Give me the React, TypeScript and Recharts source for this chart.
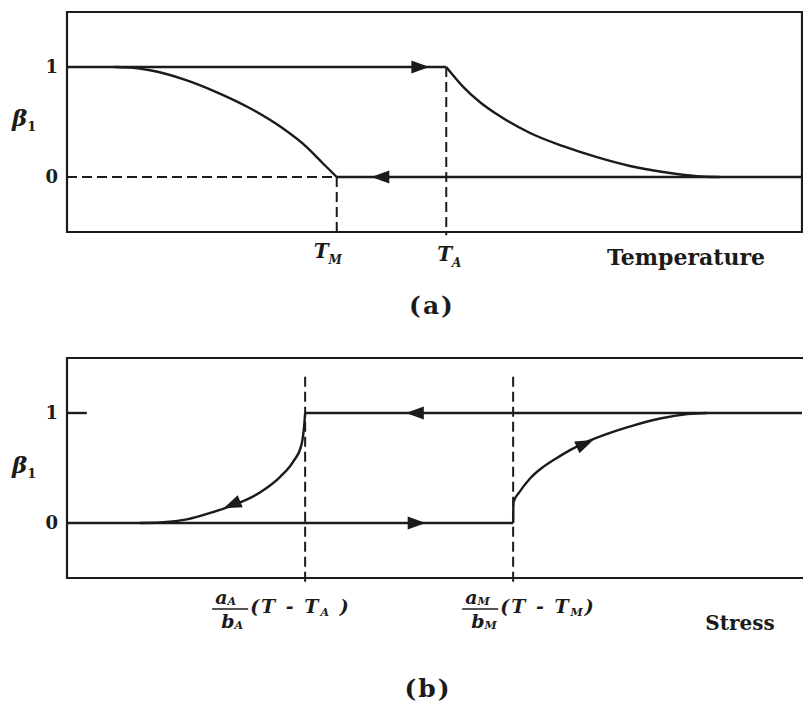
import { LineChart, Line, XAxis, YAxis, ReferenceLine, ReferenceArea } from "recharts";

type Pt = { x: number; y: number };
type Arrow = { tail: Pt; tip: Pt };

// ---- (a) beta_1 against temperature ----
const tempTicks = [36.7, 51.6]; // T_M, T_A
const tempTickSubs = ["M", "A"];
const betaTicks = [0, 1];

const heatPlateau: Pt[] = [
  { x: 0, y: 1 },
  { x: 51.6, y: 1 },
];
const heatDecay: Pt[] = [
  { x: 51.6, y: 1 },
  { x: 53.9, y: 0.82 },
  { x: 56.2, y: 0.68 },
  { x: 58.5, y: 0.57 },
  { x: 63.0, y: 0.4 },
  { x: 67.5, y: 0.28 },
  { x: 72.1, y: 0.18 },
  { x: 76.6, y: 0.1 },
  { x: 81.1, y: 0.045 },
  { x: 85.7, y: 0.007 },
  { x: 88.8, y: 0 },
];
const coolBase: Pt[] = [
  { x: 36.7, y: 0 },
  { x: 100, y: 0 },
];
const coolRise: Pt[] = [
  { x: 6.5, y: 1 },
  { x: 9.0, y: 0.992 },
  { x: 11.3, y: 0.97 },
  { x: 15.8, y: 0.89 },
  { x: 20.4, y: 0.77 },
  { x: 24.9, y: 0.625 },
  { x: 29.4, y: 0.44 },
  { x: 32.65, y: 0.27 },
  { x: 34.8, y: 0.125 },
  { x: 36.7, y: 0 },
];
const tempArrows: Arrow[] = [
  { tail: { x: 46.5, y: 1 }, tip: { x: 49.3, y: 1 } },
  { tail: { x: 44.6, y: 0 }, tip: { x: 41.4, y: 0 } },
];

// ---- (b) beta_1 against stress ----
const stressTicks = [32.4, 60.7]; // a_A/b_A (T - T_A), a_M/b_M (T - T_M)
const stressTickSubs = ["A", "M"];

const unloadTop: Pt[] = [
  { x: 32.4, y: 1 },
  { x: 100, y: 1 },
];
const loadBase: Pt[] = [
  { x: 0, y: 0 },
  { x: 60.7, y: 0 },
];
const unloadCurve: Pt[] = [
  { x: 9.9, y: 0 },
  { x: 12.7, y: 0.004 },
  { x: 16.3, y: 0.033 },
  { x: 19.9, y: 0.1 },
  { x: 23.1, y: 0.175 },
  { x: 26.3, y: 0.28 },
  { x: 29.0, y: 0.42 },
  { x: 30.8, y: 0.56 },
  { x: 31.9, y: 0.71 },
  { x: 32.3, y: 0.91 },
  { x: 32.4, y: 1 },
];
const loadCurve: Pt[] = [
  { x: 60.7, y: 0 },
  { x: 60.75, y: 0.19 },
  { x: 61.6, y: 0.285 },
  { x: 63.0, y: 0.405 },
  { x: 64.8, y: 0.51 },
  { x: 67.1, y: 0.61 },
  { x: 69.8, y: 0.71 },
  { x: 73.5, y: 0.81 },
  { x: 77.0, y: 0.885 },
  { x: 80.7, y: 0.95 },
  { x: 84.4, y: 0.99 },
  { x: 87.1, y: 1 },
];
const stressArrows: Arrow[] = [
  { tail: { x: 49.2, y: 1 }, tip: { x: 46.1, y: 1 } },
  { tail: { x: 45.9, y: 0 }, tip: { x: 48.8, y: 0 } },
  { tail: { x: 24.4, y: 0.22 }, tip: { x: 21.3, y: 0.135 } },
  { tail: { x: 68.6, y: 0.665 }, tip: { x: 71.6, y: 0.755 } },
];

const INK = "#1b1b1b";
const SERIF = '"DejaVu Serif", "Liberation Serif", serif';
const W = 803;
const PLOT_LEFT = 67;
const PLOT_TOP = 12;
const PLOT_H = 220;
const X_DOMAIN: [number, number] = [0, 100];
const Y_DOMAIN: [number, number] = [-0.5, 1.5];
const LW = 2.4;

function ArrowHead(props: any) {
  const { index, points, cx, cy } = props;
  if (index !== 1 || !points) return <g key={`ah-${index}`} />;
  const p0 = points[0];
  const ang = (Math.atan2(cy - p0.y, cx - p0.x) * 180) / Math.PI;
  return (
    <polygon
      key={`ah-${index}`}
      points="0,0 -18,-6.5 -18,6.5"
      transform={`translate(${cx},${cy}) rotate(${ang})`}
      fill={INK}
    />
  );
}

const curve = (data: Pt[], key: string) => (
  <Line
    key={key}
    data={data}
    dataKey="y"
    type="monotone"
    stroke={INK}
    strokeWidth={LW}
    dot={false}
    activeDot={false}
    isAnimationActive={false}
  />
);

const arrowLines = (arrows: Arrow[], prefix: string) =>
  arrows.map((a, i) => (
    <Line
      key={`${prefix}-${i}`}
      data={[a.tail, a.tip]}
      dataKey="y"
      type="linear"
      stroke="none"
      dot={(p: any) => <ArrowHead {...p} />}
      activeDot={false}
      isAnimationActive={false}
    />
  ));

function BetaTick(props: any) {
  const { x, y, payload } = props;
  return (
    <text x={x} y={y} dy={6} textAnchor="end" fill={INK} fontFamily={SERIF} fontWeight="bold" fontSize={18}>
      {payload.value}
    </text>
  );
}

function TempTick(props: any) {
  const { x, y, index } = props;
  const sub = tempTickSubs[index];
  const dx = index === 0 ? -9 : 3;
  const dy = index === 0 ? 18 : 21;
  return (
    <text x={x + dx} y={y + dy} textAnchor="middle" fill={INK} fontFamily={SERIF} fontWeight="bold" fontStyle="italic" fontSize={20}>
      T<tspan fontSize={12} dy={6}>{sub}</tspan>
    </text>
  );
}

// fraction a/b followed by (T - T_sub), set under the dashed stress marks
function StressTick(props: any) {
  const { x, y, index } = props;
  const sub = stressTickSubs[index];
  const x0 = x + (index === 0 ? -93 : -51);
  const txt = { fill: INK, fontFamily: SERIF, fontWeight: "bold" as const, fontStyle: "italic" as const };
  return (
    <g>
      <text x={x0 + 3} y={y + 18} fontSize={19} {...txt}>
        a<tspan fontSize={11} dy={1}>{sub}</tspan>
      </text>
      <line x1={x0} x2={x0 + 36} y1={y + 23} y2={y + 23} stroke={INK} strokeWidth={1.6} />
      <text x={x0 + 9} y={y + 42} fontSize={19} {...txt}>
        b<tspan fontSize={11} dy={1}>{sub}</tspan>
      </text>
      <text x={x0 + 38} y={y + 27} fontSize={19} letterSpacing={2} {...txt}>
        (T - T<tspan fontSize={11} dy={3}>{sub}</tspan>
        <tspan dy={-3}>{index === 0 ? " )" : ")"}</tspan>
      </text>
    </g>
  );
}

function BetaLabel({ y }: { y: number }) {
  return (
    <text x={12} y={y} fill={INK} fontFamily={SERIF} fontWeight="bold" fontStyle="italic" fontSize={23}>
      β<tspan fontSize={13} dy={5} fontStyle="normal">1</tspan>
    </text>
  );
}

const frame = (xRight: number) => (
  <ReferenceArea
    x1={X_DOMAIN[0]}
    x2={xRight}
    y1={Y_DOMAIN[0]}
    y2={Y_DOMAIN[1]}
    fill="none"
    stroke={INK}
    strokeWidth={2.2}
    ifOverflow="visible"
  />
);

const dashed = { stroke: INK, strokeWidth: 2, strokeDasharray: "10 5", ifOverflow: "visible" as const };

function TemperaturePanel() {
  const h = 340;
  return (
    <LineChart width={W} height={h} margin={{ top: PLOT_TOP, right: 1, bottom: 0, left: 0 }}>
      <XAxis
        type="number"
        dataKey="x"
        domain={X_DOMAIN}
        ticks={tempTicks}
        interval={0}
        height={h - PLOT_TOP - PLOT_H}
        axisLine={false}
        tickLine={false}
        tickMargin={2}
        tick={(p: any) => <TempTick {...p} />}
        allowDataOverflow
      />
      <YAxis
        type="number"
        domain={Y_DOMAIN}
        ticks={betaTicks}
        width={PLOT_LEFT}
        axisLine={false}
        tickLine={false}
        tickMargin={3}
        tick={(p: any) => <BetaTick {...p} />}
        allowDataOverflow
      />
      {frame(X_DOMAIN[1])}
      <ReferenceLine segment={[{ x: 0, y: 0 }, { x: tempTicks[0], y: 0 }]} {...dashed} />
      <ReferenceLine segment={[{ x: tempTicks[0], y: 0 }, { x: tempTicks[0], y: -0.53 }]} {...dashed} />
      <ReferenceLine segment={[{ x: tempTicks[1], y: 1 }, { x: tempTicks[1], y: -0.53 }]} {...dashed} />
      {curve(heatPlateau, "heatPlateau")}
      {curve(heatDecay, "heatDecay")}
      {curve(coolBase, "coolBase")}
      {curve(coolRise, "coolRise")}
      {arrowLines(tempArrows, "ta")}
      <BetaLabel y={PLOT_TOP + PLOT_H / 2 + 4} />
      <text x={686} y={265} textAnchor="middle" fill={INK} fontFamily={SERIF} fontWeight="bold" fontSize={22}>
        Temperature
      </text>
      <text x={432} y={314} textAnchor="middle" fill={INK} fontFamily={SERIF} fontWeight="bold" fontSize={25} letterSpacing={2}>
        (a)
      </text>
    </LineChart>
  );
}

function StressPanel() {
  const h = 358;
  return (
    <LineChart width={W} height={h} margin={{ top: PLOT_TOP, right: 1, bottom: 0, left: 0 }}>
      <XAxis
        type="number"
        dataKey="x"
        domain={X_DOMAIN}
        ticks={stressTicks}
        interval={0}
        height={h - PLOT_TOP - PLOT_H}
        axisLine={false}
        tickLine={false}
        tickMargin={2}
        tick={(p: any) => <StressTick {...p} />}
        allowDataOverflow
      />
      <YAxis
        type="number"
        domain={Y_DOMAIN}
        ticks={betaTicks}
        width={PLOT_LEFT}
        axisLine={false}
        tickLine={false}
        tickMargin={3}
        tick={(p: any) => <BetaTick {...p} />}
        allowDataOverflow
      />
      {/* open on the right: the box runs off the page edge */}
      {frame(X_DOMAIN[1] + 1)}
      <ReferenceLine segment={[{ x: 0, y: 1 }, { x: 2.7, y: 1 }]} stroke={INK} strokeWidth={LW} />
      <ReferenceLine segment={[{ x: stressTicks[0], y: 1.33 }, { x: stressTicks[0], y: -0.55 }]} {...dashed} />
      <ReferenceLine segment={[{ x: stressTicks[1], y: 1.33 }, { x: stressTicks[1], y: -0.55 }]} {...dashed} />
      {curve(unloadTop, "unloadTop")}
      {curve(loadBase, "loadBase")}
      {curve(unloadCurve, "unloadCurve")}
      {curve(loadCurve, "loadCurve")}
      {arrowLines(stressArrows, "sa")}
      <BetaLabel y={PLOT_TOP + PLOT_H / 2 + 5} />
      <text x={740} y={284} textAnchor="middle" fill={INK} fontFamily={SERIF} fontWeight="bold" fontSize={20}>
        Stress
      </text>
      <text x={428} y={351} textAnchor="middle" fill={INK} fontFamily={SERIF} fontWeight="bold" fontSize={25} letterSpacing={2}>
        (b)
      </text>
    </LineChart>
  );
}

export default function App() {
  return (
    <div style={{ position: "absolute", left: 0, top: 0, width: W, height: 704, background: "#fff", overflow: "hidden" }}>
      <div style={{ position: "absolute", left: 0, top: 0 }}>
        <TemperaturePanel />
      </div>
      <div style={{ position: "absolute", left: 0, top: 346 }}>
        <StressPanel />
      </div>
    </div>
  );
}
